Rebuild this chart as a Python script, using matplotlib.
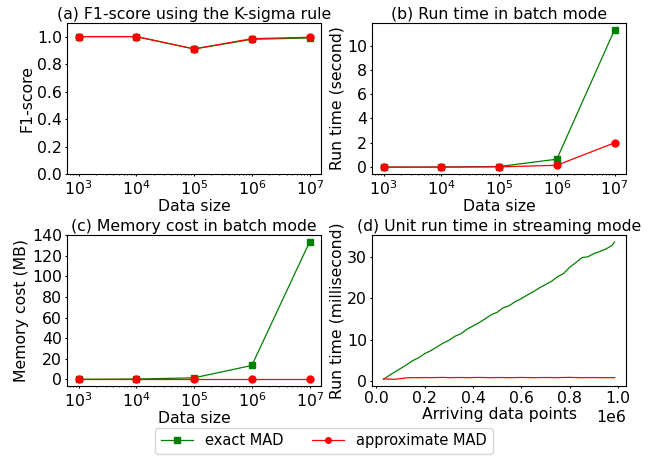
import matplotlib
matplotlib.use("Agg")
import matplotlib.pyplot as plt
from matplotlib.ticker import MultipleLocator

plt.rcParams["font.size"] = 11.3
plt.rcParams["axes.titlesize"] = 11.3
plt.rcParams["xtick.major.size"] = 1.5
plt.rcParams["ytick.major.size"] = 1.5
plt.rcParams["xtick.minor.size"] = 1.0
plt.rcParams["ytick.minor.size"] = 1.0
plt.rcParams["xtick.major.pad"] = 2
plt.rcParams["ytick.major.pad"] = 2
plt.rcParams["xtick.minor.pad"] = 2

# batch mode data
sizes = [1e3, 1e4, 1e5, 1e6, 1e7]
f1_exact = [1.0, 1.0, 0.91, 0.98, 0.99]
f1_approx = [1.0, 1.0, 0.91, 0.985, 0.995]
time_exact = [0.0, 0.01, 0.05, 0.65, 11.3]
time_approx = [0.0, 0.0, 0.02, 0.15, 2.0]
mem_exact = [0.1, 0.3, 1.5, 13.5, 133.5]
mem_approx = [0.05, 0.05, 0.05, 0.05, 0.05]

# streaming mode (arriving points, unit run time in ms)
stream_x = [30000, 50000, 75000, 100000, 125000, 150000, 175000, 200000,
            225000, 250000, 275000, 300000, 325000, 350000, 375000, 400000,
            425000, 450000, 475000, 500000, 525000, 550000, 575000, 600000,
            625000, 650000, 675000, 700000, 725000, 750000, 775000, 800000,
            825000, 850000, 875000, 900000, 925000, 950000, 975000, 985000]
stream_exact = [0.4, 1.2, 2.1, 3.0, 3.9, 4.9, 5.6, 6.6,
                7.3, 8.2, 9.1, 9.8, 10.8, 11.4, 12.5, 13.3,
                14.1, 15.0, 16.0, 16.6, 17.7, 18.2, 19.2, 19.9,
                20.8, 21.6, 22.5, 23.3, 24.1, 25.2, 26.0, 27.5,
                28.6, 29.8, 30.0, 30.8, 31.3, 31.9, 32.8, 33.6]
stream_approx = [0.5, 0.45, 0.4, 0.55, 0.75, 0.8, 0.8, 0.82,
                 0.8, 0.83, 0.85, 0.8, 0.82, 0.84, 0.8, 0.82,
                 0.85, 0.82, 0.8, 0.83, 0.82, 0.8, 0.82, 0.84,
                 0.82, 0.8, 0.82, 0.83, 0.82, 0.8, 0.84, 0.86,
                 0.82, 0.8, 0.81, 0.82, 0.8, 0.81, 0.8, 0.8]

fig, axs = plt.subplots(2, 2, figsize=(6.57, 4.57), dpi=100)
fig.subplots_adjust(left=0.102, right=0.953, top=0.95, bottom=0.155,
                    wspace=0.2, hspace=0.404)

ex_style = dict(color="green", marker="s", markersize=5, linewidth=0.9)
ap_style = dict(color="red", marker="o", markersize=5, linewidth=0.9)

ax = axs[0, 0]
ax.plot(sizes, f1_exact, label="exact MAD", **ex_style)
ax.plot(sizes, f1_approx, label="approximate MAD", **ap_style)
ax.set_xscale("log")
ax.set_ylim(0, 1.1)
ax.yaxis.set_major_locator(MultipleLocator(0.2))
ax.set_title("(a) F1-score using the K-sigma rule", pad=3)
ax.set_xlabel("Data size", labelpad=1)
ax.set_ylabel("F1-score", labelpad=2)

ax = axs[0, 1]
ax.plot(sizes, time_exact, **ex_style)
ax.plot(sizes, time_approx, **ap_style)
ax.set_xscale("log")
ax.yaxis.set_major_locator(MultipleLocator(2))
ax.set_title("(b) Run time in batch mode", pad=3)
ax.set_xlabel("Data size", labelpad=1)
ax.set_ylabel("Run time (second)", labelpad=2)

ax = axs[1, 0]
ax.plot(sizes, mem_exact, **ex_style)
ax.plot(sizes, mem_approx, **ap_style)
ax.set_xscale("log")
ax.yaxis.set_major_locator(MultipleLocator(20))
ax.set_title("(c) Memory cost in batch mode", pad=3)
ax.set_xlabel("Data size", labelpad=1)
ax.set_ylabel("Memory cost (MB)", labelpad=2)

ax = axs[1, 1]
ax.plot(stream_x, stream_exact, color="green", linewidth=0.9)
ax.plot(stream_x, stream_approx, color="red", linewidth=0.9)
ax.xaxis.set_major_locator(MultipleLocator(200000))
ax.yaxis.set_major_locator(MultipleLocator(10))
ax.set_title("(d) Unit run time in streaming mode", pad=3)
ax.set_xlabel("Arriving data points", labelpad=1)
ax.set_ylabel("Run time (millisecond)", labelpad=2)

handles, labels = axs[0, 0].get_legend_handles_labels()
fig.legend(handles, labels, loc="lower center", ncol=2, fontsize=10.5,
           bbox_to_anchor=(0.493, -0.01), handlelength=2.2,
           columnspacing=2.0, markerscale=0.8)

fig.savefig("out.png")
